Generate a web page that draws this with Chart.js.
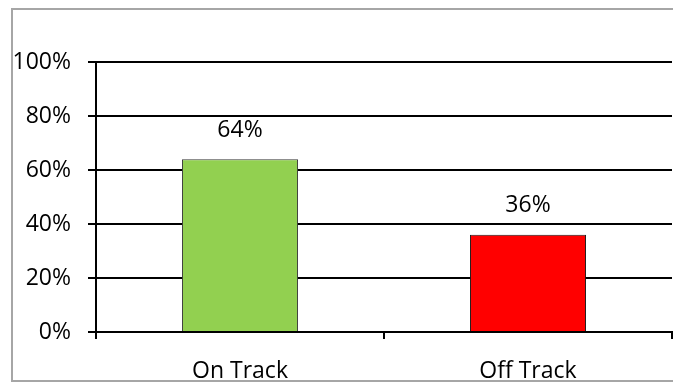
<!DOCTYPE html>
<html>
<head>
<meta charset="utf-8">
<script src="https://cdn.jsdelivr.net/npm/chart.js@4"></script>
<style>
  html, body { margin: 0; padding: 0; background: #fff; overflow: hidden; }
  #chart { display: block; }
</style>
</head>
<body>
<canvas id="chart" width="673" height="383"></canvas>
<script>
// Share of items on / off track
const categories = ["On Track", "Off Track"];
const shares = [64, 36];
const barColors = ["#92D050", "#FF0000"];
const barBorders = ["#3a3a3a", "#1a1a1a"];
const yTicks = [0, 20, 40, 60, 80, 100];

const FONT = { family: "'Open Sans', sans-serif", size: 23 };

// grey frame on the left, top and bottom (open on the right)
const framePlugin = {
  id: "frame",
  beforeDraw(chart) {
    const ctx = chart.ctx;
    ctx.save();
    ctx.fillStyle = "#fff";
    ctx.fillRect(0, 0, chart.width, chart.height);
    ctx.fillStyle = "#a6a6a6";
    ctx.fillRect(11, 8, chart.width - 11, 2);
    ctx.fillRect(11, 8, 2, 374);
    ctx.fillRect(11, 380, chart.width - 11, 2);
    ctx.restore();
  },
};

// value labels above each bar
const valueLabels = {
  id: "valueLabels",
  afterDatasetsDraw(chart) {
    const ctx = chart.ctx;
    const meta = chart.getDatasetMeta(0);
    ctx.save();
    ctx.font = `${FONT.size}px ${FONT.family}`;
    ctx.fillStyle = "#000";
    ctx.textAlign = "center";
    ctx.textBaseline = "middle";
    meta.data.forEach((bar, i) => {
      ctx.fillText(shares[i] + "%", bar.x, bar.y - 29);
    });
    ctx.restore();
  },
};

new Chart(document.getElementById("chart"), {
  type: "bar",
  data: {
    labels: categories,
    datasets: [
      {
        data: shares,
        backgroundColor: barColors,
        borderColor: barBorders,
        borderWidth: 1,
        categoryPercentage: 1,
        barPercentage: 0.403,
      },
    ],
  },
  options: {
    responsive: false,
    animation: false,
    layout: { padding: { top: 62, right: 1, bottom: 0, left: 0 } },
    plugins: {
      legend: { display: false },
      tooltip: { enabled: false },
    },
    scales: {
      x: {
        offset: true,
        grid: {
          offset: true,
          drawOnChartArea: false,
          color: "#000",
          lineWidth: 2,
          tickLength: 7,
        },
        border: { display: true, color: "#000", width: 2 },
        ticks: { color: "#000", font: FONT, padding: 19 },
        afterFit(scale) {
          scale.height = 51;
        },
      },
      y: {
        min: 0,
        max: 100,
        afterBuildTicks(scale) {
          scale.ticks = yTicks.map((v) => ({ value: v }));
        },
        grid: { color: "#000", lineWidth: 2, tickLength: 8 },
        border: { display: true, color: "#000", width: 2 },
        ticks: {
          color: "#000",
          font: FONT,
          padding: 17,
          callback: (v) => v + "%",
        },
        afterFit(scale) {
          scale.width = 96;
        },
      },
    },
  },
  plugins: [framePlugin, valueLabels],
});
</script>
</body>
</html>
